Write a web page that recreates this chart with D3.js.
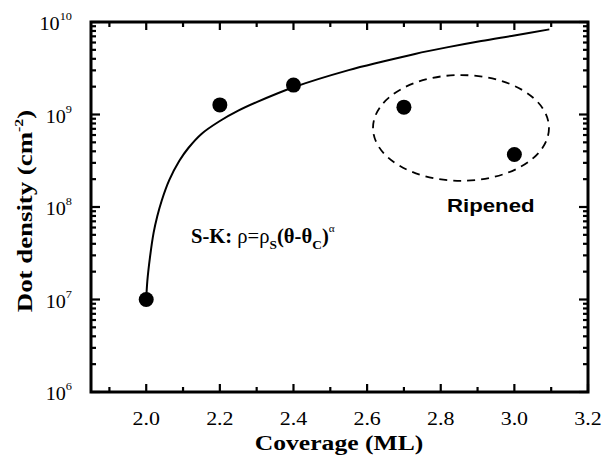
<!DOCTYPE html>
<html>
<head>
<meta charset="utf-8">
<script src="https://cdn.jsdelivr.net/npm/d3@7"></script>
<style>
  html, body { margin: 0; padding: 0; background: #fff; }
  svg { display: block; }
  text { fill: #000; }
</style>
</head>
<body>
<svg id="chart" width="604" height="457"></svg>
<script>
// ---- data ----
const coverage = [2.0, 2.2, 2.4, 2.7, 3.0];
const density  = [1.0e7, 1.27e9, 2.08e9, 1.2e9, 3.7e8];

// S-K fit curve
const fitCoverage = [2.0, 2.003, 2.01, 2.02, 2.03, 2.042, 2.0625, 2.09, 2.115, 2.15, 2.2, 2.25, 2.3, 2.4, 2.55, 2.64, 2.73, 2.82, 2.91, 3.0, 3.095];
const fitDensity  = [1.0e7, 1.58e7, 2.82e7, 5.25e7, 7.94e7, 1.17e8, 1.95e8, 3.16e8, 4.37e8, 6.17e8, 8.51e8, 1.10e9, 1.36e9, 1.97e9, 3.02e9, 3.72e9, 4.52e9, 5.35e9, 6.24e9, 7.16e9, 8.32e9];

// "Ripened" dashed ellipse (data space)
const ellipseCoverage = [2.616, 3.094];       // left, right
const ellipseDensity  = [2.67e9, 1.92e8];     // top, bottom

const xTicks = [2.0, 2.2, 2.4, 2.6, 2.8, 3.0, 3.2];
const yDecades = [6, 7, 8, 9, 10];
const xDomain = [1.85, 3.2];
const yDomain = [1e6, 1e10];

// ---- layout ----
const svg = d3.select("#chart");
const L = 91, R = 588, T = 22, B = 392;
const x = d3.scaleLinear().domain(xDomain).range([L, R]);
const y = d3.scaleLog().domain(yDomain).range([B, T]);

const serif = "'Liberation Serif', 'Times New Roman', serif";
const sans = "'Liberation Sans', Arial, sans-serif";

// stretched text helper (reference type is wide)
function stext(px, py, sx, rot) {
  const g = svg.append("g")
    .attr("transform", `translate(${px},${py})` + (rot ? ` rotate(${rot})` : "") + ` scale(${sx},1)`);
  return g.append("text").attr("x", 0).attr("y", 0);
}

// ---- ticks (inward, on all four sides) ----
const xMinor = d3.range(1.9, 3.2, 0.1).map(v => +v.toFixed(2)).filter(v => !xTicks.some(t => Math.abs(t - v) < 1e-6));
const yMinor = [];
for (let d = 6; d < 10; d++) for (let m = 2; m <= 9; m++) yMinor.push(m * Math.pow(10, d));

const tk = svg.append("g").attr("stroke", "#000").attr("stroke-width", 2.2);
function vt(list, len) {
  list.forEach(v => {
    tk.append("line").attr("x1", x(v)).attr("x2", x(v)).attr("y1", B).attr("y2", B - len);
    tk.append("line").attr("x1", x(v)).attr("x2", x(v)).attr("y1", T).attr("y2", T + len);
  });
}
function ht(list, len) {
  list.forEach(v => {
    tk.append("line").attr("y1", y(v)).attr("y2", y(v)).attr("x1", L).attr("x2", L + len);
    tk.append("line").attr("y1", y(v)).attr("y2", y(v)).attr("x1", R).attr("x2", R - len);
  });
}
vt(xTicks, 8); vt(xMinor, 5);
ht(yDecades.map(d => Math.pow(10, d)), 9); ht(yMinor, 5);

// frame
svg.append("rect").attr("x", L).attr("y", T).attr("width", R - L).attr("height", B - T)
  .attr("fill", "none").attr("stroke", "#000").attr("stroke-width", 3);

// ---- tick labels ----
xTicks.forEach(v => {
  stext(x(v), 425, 1.22).attr("text-anchor", "middle")
    .attr("font-family", serif).attr("font-size", 18).text(v.toFixed(1));
});

yDecades.forEach(d => {
  const t = stext(72, y(Math.pow(10, d)) + 8, 1.12).attr("text-anchor", "end")
    .attr("font-family", serif).attr("font-size", 18);
  t.append("tspan").text("10");
  t.append("tspan").attr("dy", -10).attr("font-size", 11).text(d);
});

// ---- axis titles ----
stext(339, 450, 1.22).attr("text-anchor", "middle").attr("font-family", serif)
  .attr("font-weight", "bold").attr("font-size", 21).text("Coverage (ML)");

const yt = stext(32, 211, 1.22, -90).attr("text-anchor", "middle").attr("font-family", serif)
  .attr("font-weight", "bold").attr("font-size", 22);
yt.append("tspan").text("Dot density (cm");
yt.append("tspan").attr("dy", -9).attr("font-size", 13).text("-2");
yt.append("tspan").attr("dy", 9).text(")");

// ---- fit curve ----
const fitData = fitCoverage.map((c, i) => [c, fitDensity[i]]);
svg.append("path").datum(fitData)
  .attr("fill", "none").attr("stroke", "#000").attr("stroke-width", 2)
  .attr("d", d3.line().x(d => x(d[0])).y(d => y(d[1])).curve(d3.curveCatmullRom.alpha(0.5)));

// ---- dashed ellipse ----
const ex0 = x(ellipseCoverage[0]), ex1 = x(ellipseCoverage[1]);
const ey0 = y(ellipseDensity[0]), ey1 = y(ellipseDensity[1]);
svg.append("ellipse")
  .attr("cx", (ex0 + ex1) / 2).attr("cy", (ey0 + ey1) / 2)
  .attr("rx", (ex1 - ex0) / 2).attr("ry", (ey1 - ey0) / 2)
  .attr("fill", "none").attr("stroke", "#000").attr("stroke-width", 1.8)
  .attr("stroke-dasharray", "8,6");

// ---- data points ----
svg.append("g").selectAll("circle").data(coverage).join("circle")
  .attr("cx", d => x(d)).attr("cy", (d, i) => y(density[i]))
  .attr("r", 7.5).attr("fill", "#000");

// ---- annotations ----
stext(447, 212, 1.17).attr("font-family", sans)
  .attr("font-weight", "bold").attr("font-size", 19).text("Ripened");

const sk = stext(191, 243, 1.03).attr("font-family", serif).attr("font-size", 20);
sk.append("tspan").attr("font-weight", "bold").text("S-K: ");
sk.append("tspan").text("ρ=ρ");
sk.append("tspan").attr("font-weight", "bold").attr("font-size", 13).attr("dy", 6).text("S");
sk.append("tspan").attr("font-weight", "bold").attr("dy", -6).text("(θ-θ");
sk.append("tspan").attr("font-weight", "bold").attr("font-size", 13).attr("dy", 6).text("C");
sk.append("tspan").attr("font-weight", "bold").attr("dy", -6).text(")");
sk.append("tspan").attr("font-size", 11).attr("dy", -11).text("α");
</script>
</body>
</html>
